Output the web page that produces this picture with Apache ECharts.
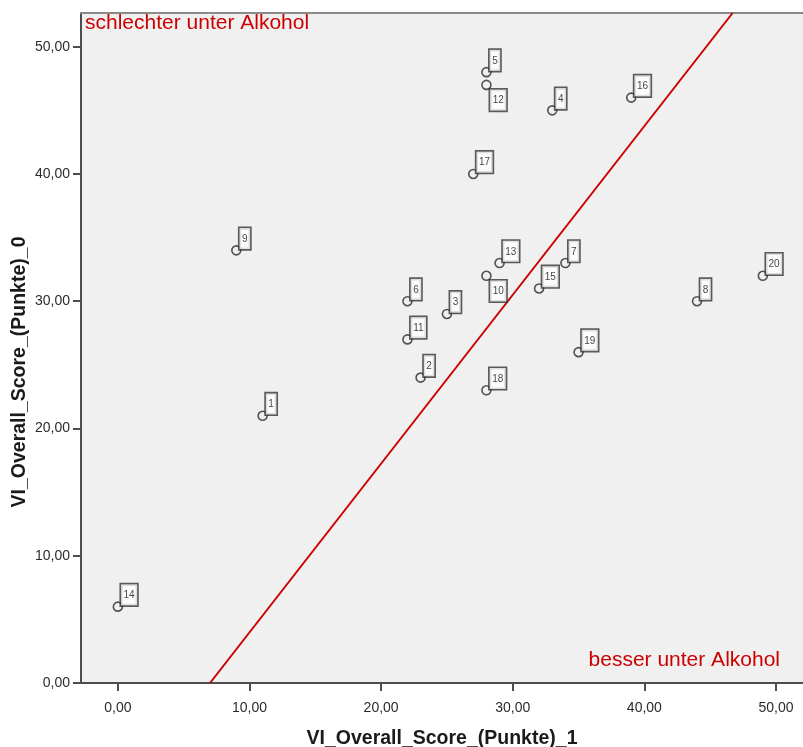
<!DOCTYPE html>
<html>
<head>
<meta charset="utf-8">
<title></title>
<script src="https://cdn.jsdelivr.net/npm/echarts@6/dist/echarts.min.js"></script>
<style>
  html, body { margin: 0; padding: 0; background: #fff; }
  #main { width: 803px; height: 747px; }
</style>
</head>
<body>
<div id="main"></div>
<script type="text/javascript">
// Fallnummern und Werte (x = Score_1, y = Score_0)
var caseIds = [1, 2, 3, 4, 5, 6, 7, 8, 9, 10, 11, 12, 13, 14, 15, 16, 17, 18, 19, 20];
var score1  = [11, 23, 25, 33, 28, 22, 34, 44, 9, 28, 22, 28, 29, 0, 32, 39, 27, 28, 35, 49];
var score0  = [21, 24, 29, 45, 48, 30, 33, 30, 34, 32, 27, 47, 33, 6, 31, 46, 40, 23, 26, 32];

// Referenzlinie (Endpunkte)
var refLineX = [7, 46.7];
var refLineY = [0, 52.65];

var tickValues = [0, 10, 20, 30, 40, 50];

var xTitle = 'VI_Overall_Score_(Punkte)_1';
var yTitle = 'VI_Overall_Score_(Punkte)_0';
var noteTop = 'schlechter unter Alkohol';
var noteBottom = 'besser unter Alkohol';

var FONT = '"Liberation Sans", Arial, Helvetica, sans-serif';

function fmt(v) {
  return v.toFixed(2).replace('.', ',');
}

var labelBelow = [10, 12]; // diese Labels stehen unter dem Punkt

var points = [];
for (var i = 0; i < caseIds.length; i++) {
  var item = { value: [score1[i], score0[i], caseIds[i]] };
  if (labelBelow.indexOf(caseIds[i]) >= 0) {
    item.label = { position: [9, 10] };
  }
  points.push(item);
}

var lineData = [];
for (var j = 0; j < refLineX.length; j++) {
  lineData.push([refLineX[j], refLineY[j]]);
}

var chart = echarts.init(document.getElementById('main'));

var axisColor = '#4d4d4d';

chart.setOption({
  animation: false,
  backgroundColor: '#ffffff',
  grid: {
    left: 81, right: 0, top: 13, bottom: 64,
    outerBoundsMode: 'none',
    containLabel: false,
    show: true,
    backgroundColor: '#f0f0f0',
    borderWidth: 0
  },
  xAxis: [
    {
      type: 'value',
      min: -2.8,
      max: 52.05,
      name: xTitle,
      nameLocation: 'middle',
      nameGap: 46,
      nameTextStyle: { fontFamily: FONT, fontSize: 19.5, fontWeight: 'bold', color: '#1a1a1a' },
      axisLine: { show: true, onZero: false, lineStyle: { color: axisColor, width: 2 } },
      axisTick: { show: true, length: 8, customValues: tickValues, lineStyle: { color: axisColor, width: 2 } },
      axisLabel: { customValues: tickValues, formatter: fmt, margin: 18, fontFamily: FONT, fontSize: 14, color: '#2b2b2b' },
      splitLine: { show: false }
    },
    {
      type: 'value',
      position: 'top',
      min: -2.8,
      max: 52.05,
      axisLine: { show: true, onZero: false, lineStyle: { color: '#8a8a8a', width: 2 } },
      axisTick: { show: false },
      axisLabel: { show: false },
      splitLine: { show: false }
    }
  ],
  yAxis: {
    type: 'value',
    min: 0,
    max: 52.65,
    axisLine: { show: true, onZero: false, lineStyle: { color: axisColor, width: 2 } },
    axisTick: { show: true, length: 8, customValues: tickValues, lineStyle: { color: axisColor, width: 2 } },
    axisLabel: { customValues: tickValues, formatter: fmt, margin: 11, fontFamily: FONT, fontSize: 14, color: '#2b2b2b' },
    splitLine: { show: false }
  },
  graphic: [
    {
      type: 'text',
      x: 20, y: 372,
      rotation: Math.PI / 2,
      style: {
        text: yTitle,
        font: 'bold 19.5px ' + FONT,
        fill: '#1a1a1a',
        align: 'center',
        verticalAlign: 'middle'
      }
    },
    {
      type: 'text',
      x: 85, y: 23,
      style: {
        text: noteTop,
        font: '21px ' + FONT,
        fill: '#cc0000',
        align: 'left',
        verticalAlign: 'middle'
      }
    },
    {
      type: 'text',
      x: 780, y: 660,
      style: {
        text: noteBottom,
        font: '21px ' + FONT,
        fill: '#cc0000',
        align: 'right',
        verticalAlign: 'middle'
      }
    }
  ],
  series: [
    {
      type: 'line',
      data: lineData,
      symbol: 'none',
      silent: true,
      lineStyle: { color: '#cc0000', width: 2 },
      z: 2
    },
    {
      type: 'scatter',
      data: points,
      symbol: 'circle',
      symbolSize: 9,
      itemStyle: { color: 'rgba(0,0,0,0)', borderColor: '#2b2b2b', borderWidth: 1.6 },
      label: {
        show: true,
        position: [8.5, -17],
        formatter: function (p) { return p.value[2]; },
        fontFamily: FONT,
        fontSize: 10,
        lineHeight: 12,
        color: '#111',
        backgroundColor: '#ffffff',
        borderColor: '#333',
        borderWidth: 1.6,
        padding: [5, 2.5, 4, 2.5]
      },
      labelLayout: { hideOverlap: false },
      z: 3
    }
  ]
});
</script>
</body>
</html>
